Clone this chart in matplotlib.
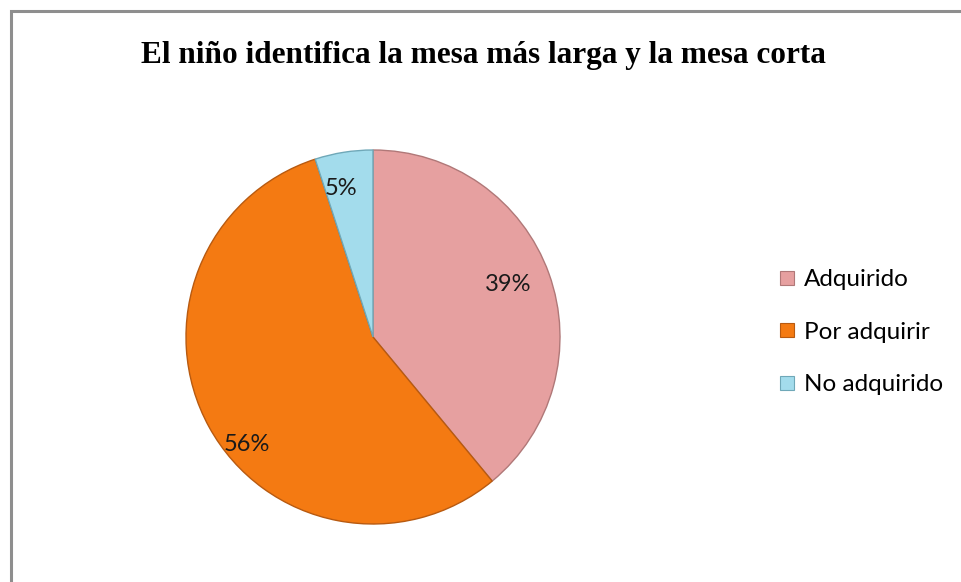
import matplotlib
matplotlib.use("Agg")
import matplotlib.pyplot as plt
from matplotlib.patches import Rectangle
from matplotlib.lines import Line2D
import numpy as np

title = "El niño identifica la mesa más larga y la mesa corta"
categories = ["Adquirido", "Por adquirir", "No adquirido"]
values = [39, 56, 5]
colors = ["#E6A0A0", "#F47A12", "#A3DCEC"]
edge_colors = ["#B07878", "#B85A10", "#6FA8B8"]

W, H = 961, 582
fig = plt.figure(figsize=(W / 100, H / 100), dpi=100)
fig.patch.set_facecolor("white")

# outer chart border (only top and left visible in reference)
fig.add_artist(Rectangle((10.5 / W, -0.05), 1.2, (H - 11) / H + 0.05,
                         transform=fig.transFigure, fill=False,
                         edgecolor="#8E8E8E", linewidth=2.2))

cx, cy, r = 373, 337, 187
ax = fig.add_axes([(cx - r) / W, 1 - (cy + r) / H, 2 * r / W, 2 * r / H])
wedges, _ = ax.pie(values, colors=colors, startangle=90, counterclock=False,
                   radius=1.0,
                   wedgeprops=dict(linewidth=1.0, edgecolor="#8A6A6A"))
for w, ec in zip(wedges, edge_colors):
    w.set_edgecolor(ec)
ax.set_xlim(-1, 1)
ax.set_ylim(-1, 1)
ax.set_aspect("equal")
ax.axis("off")

# percentage labels placed at (adjusted) wedge angles
label_r = [0.78, 0.88, 0.82]
label_dang = [2, 11, 3]
for w, v, lr, da in zip(wedges, values, label_r, label_dang):
    ang = np.deg2rad((w.theta1 + w.theta2) / 2 + da)
    ax.text(lr * np.cos(ang), lr * np.sin(ang) - 0.01, f"{v}%", ha="center", va="center",
            fontsize=17, family="Lato", color="#1a1a1a")

fig.text(483 / W, 1 - 55 / H, title, ha="center", va="center",
         fontsize=22.5, fontweight="bold", family="Liberation Serif", color="black")

handles = [Line2D([0], [0], marker="s", linestyle="none", markersize=10,
                  markerfacecolor=c, markeredgecolor=ec, markeredgewidth=0.8)
           for c, ec in zip(colors, edge_colors)]
leg = fig.legend(handles, categories, loc="upper left",
                 bbox_to_anchor=(778 / W, 1 - 269 / H),
                 frameon=False, prop=dict(family="Lato", size=17.5),
                 handlelength=0.75, handletextpad=0.3, labelspacing=1.3,
                 borderaxespad=0, borderpad=0)

fig.savefig("out.png", dpi=100, facecolor="white")
